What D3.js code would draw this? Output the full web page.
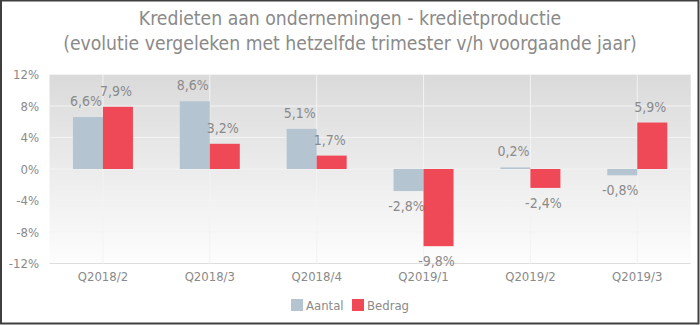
<!DOCTYPE html>
<html>
<head>
<meta charset="utf-8">
<script src="https://cdn.jsdelivr.net/npm/d3@7/dist/d3.min.js"></script>
<style>
  html, body { margin: 0; padding: 0; background: #fff; }
  svg { display: block; font-family: "DejaVu Sans Condensed", "DejaVu Sans", sans-serif; }
</style>
</head>
<body>
<svg id="chart" width="700" height="325"></svg>
<script>
// Quarterly change in business credit production (year-on-year, %)
const categories = ["Q2018/2", "Q2018/3", "Q2018/4", "Q2019/1", "Q2019/2", "Q2019/3"];
const aantal = [6.6, 8.6, 5.1, -2.8, 0.2, -0.8];
const bedrag = [7.9, 3.2, 1.7, -9.8, -2.4, 5.9];
const seriesNames = ["Aantal", "Bedrag"];
const seriesColors = ["#b5c4d1", "#ef4856"];
const yTicks = [-12, -8, -4, 0, 4, 8, 12];
const titleLines = [
  "Kredieten aan ondernemingen - kredietproductie",
  "(evolutie vergeleken met hetzelfde trimester v/h voorgaande jaar)"
];

const W = 700, H = 325;
const svg = d3.select("#chart");
const plot = { left: 49.5, right: 690.7, top: 74.5, bottom: 263.5 };
const textColor = "#8a8a8a";
const fontStack = "DejaVu Sans Condensed, DejaVu Sans, sans-serif";

// Background gradient of the plot area
const defs = svg.append("defs");
const grad = defs.append("linearGradient").attr("id", "plotBg")
  .attr("x1", 0).attr("y1", 0).attr("x2", 0).attr("y2", 1);
grad.append("stop").attr("offset", "0%").attr("stop-color", "#dadada");
grad.append("stop").attr("offset", "100%").attr("stop-color", "#fdfdfd");

// Title
svg.append("g").selectAll("text").data(titleLines).join("text")
  .attr("x", W / 2)
  .attr("y", (d, i) => 25 + i * 25)
  .attr("text-anchor", "middle")
  .attr("font-size", 19.2)
  .attr("fill", "#8a8a8a")
  .text(d => d);

const x0 = d3.scaleBand().domain(categories).range([plot.left, plot.right]).padding(0);
const x1 = d3.scaleBand().domain(seriesNames)
  .range([x0.bandwidth() / 2 - 30, x0.bandwidth() / 2 + 30]).padding(0);
const y = d3.scaleLinear().domain([-12, 12]).range([plot.bottom, plot.top]);

svg.append("rect")
  .attr("x", plot.left).attr("y", plot.top)
  .attr("width", plot.right - plot.left).attr("height", plot.bottom - plot.top)
  .attr("fill", "url(#plotBg)");

// Horizontal gridlines
svg.append("g").selectAll("line").data(yTicks.filter(t => t !== -12)).join("line")
  .attr("x1", plot.left).attr("x2", plot.right)
  .attr("y1", d => y(d)).attr("y2", d => y(d))
  .attr("stroke", "#f3f3f3").attr("stroke-width", 1);
svg.append("line")
  .attr("x1", plot.left).attr("x2", plot.right)
  .attr("y1", y(-12)).attr("y2", y(-12))
  .attr("stroke", "#dedede").attr("stroke-width", 1.2);

// Vertical gridlines at category centres
svg.append("g").selectAll("line").data(categories).join("line")
  .attr("x1", d => x0(d) + x0.bandwidth() / 2).attr("x2", d => x0(d) + x0.bandwidth() / 2)
  .attr("y1", plot.top).attr("y2", plot.bottom)
  .attr("stroke", "#f3f3f3").attr("stroke-width", 1);

// Y axis labels (plain hyphen for negatives)
const yAxis = d3.axisLeft(y).tickValues(yTicks).tickSize(0).tickPadding(0)
  .tickFormat(d => String(d) + "%");
const yG = svg.append("g").attr("transform", `translate(39,0)`).call(yAxis);
yG.select(".domain").remove();
yG.selectAll("text").attr("font-size", 13).attr("fill", textColor)
  .attr("font-family", fontStack);

// X axis labels
const xAxis = d3.axisBottom(x0).tickSize(0).tickPadding(0);
const xG = svg.append("g").attr("transform", `translate(0,272)`).call(xAxis);
xG.select(".domain").remove();
xG.selectAll("text").attr("font-size", 13).attr("fill", textColor)
  .attr("font-family", fontStack);

// Bars
const rows = categories.map((c, i) => ({ cat: c, vals: [aantal[i], bedrag[i]] }));
const groups = svg.append("g").selectAll("g").data(rows).join("g")
  .attr("transform", d => `translate(${x0(d.cat)},0)`);

const fmt = v => v.toFixed(1).replace(".", ",") + "%";

groups.selectAll("rect").data(d => d.vals.map((v, j) => ({ v, s: seriesNames[j], j })))
  .join("rect")
  .attr("x", d => x1(d.s))
  .attr("width", x1.bandwidth())
  .attr("y", d => y(Math.max(0, d.v)))
  .attr("height", d => Math.abs(y(d.v) - y(0)))
  .attr("fill", d => seriesColors[d.j]);

groups.selectAll("text").data(d => d.vals.map((v, j) => ({ v, s: seriesNames[j], j })))
  .join("text")
  .attr("x", d => x1(d.s) + x1.bandwidth() / 2 - 2)
  .attr("y", d => d.v >= 0 ? y(d.v) - 11 : y(d.v) + 20)
  .attr("text-anchor", "middle")
  .attr("font-size", 14)
  .attr("fill", textColor)
  .text(d => fmt(d.v));

// Legend
const legend = svg.append("g").attr("transform", "translate(291,299)");
const legendX = [0, 61];
seriesNames.forEach((name, i) => {
  const g = legend.append("g").attr("transform", `translate(${legendX[i]},0)`);
  g.append("rect").attr("width", 12).attr("height", 12).attr("fill", seriesColors[i]);
  g.append("text").attr("x", 15).attr("y", 11)
    .attr("font-size", 13).attr("fill", textColor).text(name);
});

// Outer frame
svg.append("rect").attr("x", 1).attr("y", 0.5).attr("width", W - 2.5).attr("height", H - 2)
  .attr("fill", "none").attr("stroke", "#3f3f3f").attr("stroke-width", 2);
</script>
</body>
</html>
